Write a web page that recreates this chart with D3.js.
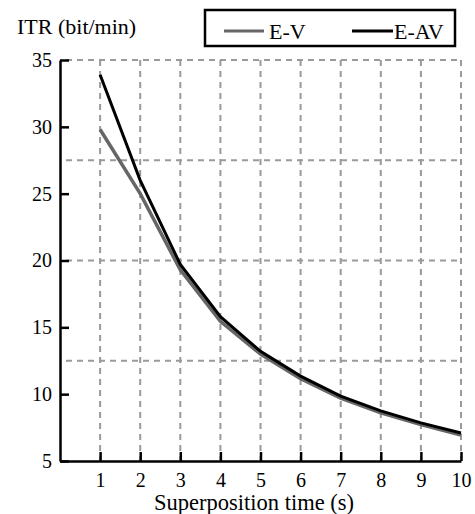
<!DOCTYPE html>
<html>
<head>
<meta charset="utf-8">
<script src="https://cdn.jsdelivr.net/npm/d3@7"></script>
<style>
  body { margin: 0; background: #fff; }
</style>
</head>
<body>
<div id="app"></div>
<script>
const times = [1, 2, 3, 4, 5, 6, 7, 8, 9, 10];
const eV = [29.8, 25.0, 19.3, 15.45, 13.0, 11.15, 9.7, 8.6, 7.72, 6.95];
const eAV = [33.9, 26.0, 19.7, 15.8, 13.2, 11.35, 9.85, 8.75, 7.85, 7.1];
const yTicks = [5, 10, 15, 20, 25, 30, 35];
const yGrid = [12.5, 20, 27.5, 35];
const xTicks = [1, 2, 3, 4, 5, 6, 7, 8, 9, 10];

const width = 475;
const height = 514;
const margin = { top: 60, right: 14, bottom: 53, left: 60 };
const serif = "Liberation Serif";

const x = d3.scaleLinear().domain([0, 10]).range([margin.left, width - margin.right]);
const y = d3.scaleLinear().domain([5, 35]).range([height - margin.bottom, margin.top]);

const svg = d3.select("#app").append("svg")
  .attr("width", width)
  .attr("height", height)
  .attr("font-family", serif);

// grid
const grid = svg.append("g")
  .attr("stroke", "#9a9a9a")
  .attr("stroke-width", 2)
  .attr("stroke-dasharray", "6,5");

grid.selectAll("line.v").data(xTicks).enter().append("line")
  .attr("class", "v")
  .attr("x1", d => x(d)).attr("x2", d => x(d))
  .attr("y1", y(35)).attr("y2", y(5));

grid.selectAll("line.h").data(yGrid).enter().append("line")
  .attr("class", "h")
  .attr("x1", x(0) + 6).attr("x2", x(10))
  .attr("y1", d => y(d)).attr("y2", d => y(d));

// axes
const xAxis = d3.axisBottom(x).tickValues(xTicks).tickSizeInner(-9).tickSizeOuter(0).tickPadding(12);
const yAxis = d3.axisLeft(y).tickValues(yTicks).tickSizeInner(-9).tickSizeOuter(0).tickPadding(8);

const gx = svg.append("g")
  .attr("transform", `translate(0,${y(5)})`)
  .call(xAxis);
const gy = svg.append("g")
  .attr("transform", `translate(${x(0)},0)`)
  .call(yAxis);

[gx, gy].forEach(g => {
  g.attr("font-family", serif).attr("font-size", 20);
  g.select(".domain").attr("stroke", "#000").attr("stroke-width", 2.5);
  g.selectAll(".tick line").attr("stroke", "#000").attr("stroke-width", 2.5);
  g.selectAll(".tick text").attr("fill", "#000");
});

// lines
const line = d3.line()
  .x((d, i) => x(times[i]))
  .y(d => y(d));

svg.append("path")
  .datum(eV)
  .attr("fill", "none")
  .attr("stroke", "#666")
  .attr("stroke-width", 3.5)
  .attr("d", line);

svg.append("path")
  .datum(eAV)
  .attr("fill", "none")
  .attr("stroke", "#000")
  .attr("stroke-width", 3)
  .attr("d", line);

// labels
svg.append("text")
  .attr("x", 17)
  .attr("y", 34)
  .attr("font-size", 22)
  .text("ITR (bit/min)");

svg.append("text")
  .attr("x", 254)
  .attr("y", 510)
  .attr("text-anchor", "middle")
  .attr("font-size", 22.5)
  .text("Superposition time (s)");

// legend
const legend = svg.append("g");
legend.append("rect")
  .attr("x", 205).attr("y", 10)
  .attr("width", 250).attr("height", 36)
  .attr("fill", "#fff")
  .attr("stroke", "#000")
  .attr("stroke-width", 2.5);

const legendItems = [
  { name: "E-V", color: "#666", x0: 224, x1: 264, tx: 269 },
  { name: "E-AV", color: "#000", x0: 352, x1: 393, tx: 394 }
];
legendItems.forEach(it => {
  legend.append("line")
    .attr("x1", it.x0).attr("x2", it.x1)
    .attr("y1", 31).attr("y2", 31)
    .attr("stroke", it.color)
    .attr("stroke-width", 3);
  legend.append("text")
    .attr("x", it.tx)
    .attr("y", 39)
    .attr("font-size", 22)
    .text(it.name);
});
</script>
</body>
</html>
